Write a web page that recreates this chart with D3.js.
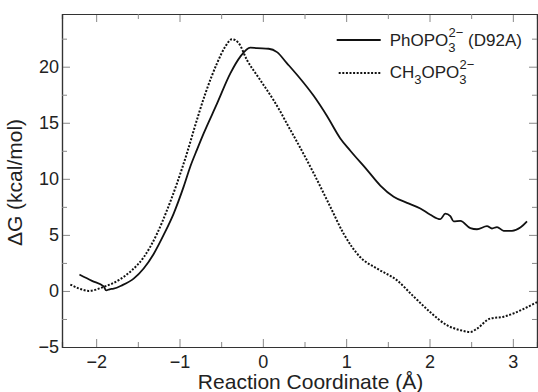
<!DOCTYPE html>
<html>
<head>
<meta charset="utf-8">
<script src="https://cdn.jsdelivr.net/npm/d3@7"></script>
<style>
  body { margin: 0; background: #fff; }
  text { font-family: "Liberation Sans", Arial, sans-serif; fill: #222; }
</style>
</head>
<body>
<div id="chart"></div>
<script>
// PhOPO3 2- (D92A), solid line
const phX = [-2.20, -2.05, -1.91, -1.88, -1.84, -1.79, -1.69, -1.55, -1.43, -1.31, -1.19, -1.07, -0.95, -0.87, -0.79, -0.71, -0.55, -0.39, -0.27, -0.15, -0.07, 0.07, 0.17, 0.29, 0.43, 0.61, 0.77, 0.93, 1.05, 1.25, 1.41, 1.57, 1.73, 1.89, 2.01, 2.13, 2.19, 2.25, 2.29, 2.37, 2.49, 2.57, 2.69, 2.75, 2.81, 2.89, 2.99, 3.09, 3.17];
const phY = [1.46, 0.9, 0.4, 0.05, 0.15, 0.2, 0.5, 1.1, 2.0, 3.3, 5.0, 6.9, 9.3, 11.1, 12.6, 14.05, 16.7, 19.4, 20.9, 21.7, 21.65, 21.6, 21.3, 20.3, 19.1, 17.4, 15.6, 13.6, 12.5, 10.8, 9.4, 8.4, 7.86, 7.36, 6.8, 6.4, 6.9, 6.67, 6.2, 6.25, 5.6, 5.5, 5.78, 5.57, 5.7, 5.36, 5.36, 5.65, 6.2];

// CH3OPO3 2-, dotted line
const meX = [-2.31, -2.2, -2.09, -1.91, -1.73, -1.57, -1.43, -1.27, -1.15, -1.03, -0.91, -0.83, -0.69, -0.55, -0.45, -0.37, -0.29, -0.19, -0.03, 0.13, 0.21, 0.29, 0.41, 0.61, 0.81, 0.97, 1.17, 1.37, 1.61, 1.81, 2.01, 2.21, 2.37, 2.49, 2.57, 2.73, 2.89, 3.01, 3.13, 3.29];
const meY = [0.57, 0.2, 0.0, 0.36, 0.96, 1.85, 3.0, 5.1, 7.2, 9.6, 12.3, 14.3, 17.6, 20.3, 21.8, 22.45, 22.1, 20.6, 18.8, 17.0, 16.0, 14.9, 13.3, 10.5, 7.5, 5.1, 3.0, 2.0, 0.95, -0.5, -1.9, -3.06, -3.5, -3.66, -3.36, -2.46, -2.3, -2.0, -1.6, -1.0];

const xTicks = [-2, -1, 0, 1, 2, 3];
const yTicks = [-5, 0, 5, 10, 15, 20];

const margin = { top: 14, right: 1, bottom: 45, left: 62 },
    width = 538 - margin.left - margin.right,
    height = 392 - margin.top - margin.bottom;

const svg = d3.select("#chart")
    .append("svg")
    .attr("width", 538)
    .attr("height", 392)
    .append("g")
    .attr("transform", `translate(${margin.left},${margin.top})`);

const x = d3.scaleLinear().domain([-2.41, 3.29]).range([0, width]);
const y = d3.scaleLinear().domain([-5, 24.7]).range([height, 0]);

const xMinor = d3.range(-2.5, 3.3, 0.5).filter(v => x(v) >= 0 && xTicks.indexOf(v) < 0);
const yMinor = d3.range(-2.5, 25, 5);

function styleAxis(g) {
    g.select(".domain").attr("stroke", "#333").attr("stroke-width", 1.2);
    g.selectAll(".tick line").attr("stroke", "#888");
    g.selectAll("text").style("font-size", "18px").attr("fill", "#222");
}

// major ticks, inward
svg.append("g")
    .attr("transform", `translate(0,${height})`)
    .call(d3.axisBottom(x).tickValues(xTicks).tickFormat(d3.format("d")).tickSizeInner(-8).tickSizeOuter(0).tickPadding(8))
    .call(styleAxis);
svg.append("g")
    .call(d3.axisTop(x).tickValues(xTicks).tickSizeInner(-8).tickSizeOuter(0).tickFormat(""))
    .call(styleAxis);
svg.append("g")
    .call(d3.axisLeft(y).tickValues(yTicks).tickFormat(d3.format("d")).tickSizeInner(-8).tickSizeOuter(0).tickPadding(3))
    .call(styleAxis);
svg.append("g")
    .attr("transform", `translate(${width},0)`)
    .call(d3.axisRight(y).tickValues(yTicks).tickSizeInner(-8).tickSizeOuter(0).tickFormat(""))
    .call(styleAxis);

// minor ticks
svg.append("g")
    .attr("transform", `translate(0,${height})`)
    .call(d3.axisBottom(x).tickValues(xMinor).tickSize(-5).tickFormat(""))
    .call(styleAxis);
svg.append("g")
    .call(d3.axisTop(x).tickValues(xMinor).tickSize(-5).tickFormat(""))
    .call(styleAxis);
svg.append("g")
    .call(d3.axisLeft(y).tickValues(yMinor).tickSize(-5).tickFormat(""))
    .call(styleAxis);
svg.append("g")
    .attr("transform", `translate(${width},0)`)
    .call(d3.axisRight(y).tickValues(yMinor).tickSize(-5).tickFormat(""))
    .call(styleAxis);

// curves
const line = d3.line().x(d => x(d[0])).y(d => y(d[1])).curve(d3.curveMonotoneX);

svg.append("path")
    .datum(phX.map((v, i) => [v, phY[i]]))
    .attr("fill", "none")
    .attr("stroke", "#111")
    .attr("stroke-width", 1.8)
    .attr("d", line);

svg.append("path")
    .datum(meX.map((v, i) => [v, meY[i]]))
    .attr("fill", "none")
    .attr("stroke", "#111")
    .attr("stroke-width", 2)
    .attr("stroke-dasharray", "2,1.6")
    .attr("d", line);

// axis titles
svg.append("text")
    .attr("x", width / 2 + 11)
    .attr("y", height + 42)
    .attr("text-anchor", "middle")
    .style("font-size", "21px")
    .text("Reaction Coordinate (Å)");

svg.append("text")
    .attr("transform", `translate(${-40},${height / 2 + 2}) rotate(-90)`)
    .attr("text-anchor", "middle")
    .style("font-size", "21px")
    .text("ΔG (kcal/mol)");

// legend
const lg = svg.append("g").attr("transform", `translate(${336.7 - margin.left},${40 - margin.top})`);
lg.append("line").attr("x1", 0).attr("x2", 44).attr("y1", 0).attr("y2", 0)
    .attr("stroke", "#111").attr("stroke-width", 1.8);
lg.append("line").attr("x1", 2).attr("x2", 44).attr("y1", 33).attr("y2", 33)
    .attr("stroke", "#111").attr("stroke-width", 2).attr("stroke-dasharray", "2,1.6");

const t1 = lg.append("text").attr("x", 53).attr("y", 6).style("font-size", "17px");
t1.append("tspan").text("PhOPO");
t1.append("tspan").attr("dy", 6).style("font-size", "13px").text("3");
t1.append("tspan").attr("dx", -7).attr("dy", -15).style("font-size", "13px").text("2−");
t1.append("tspan").attr("dy", 9).text(" (D92A)");

const t2 = lg.append("text").attr("x", 53).attr("y", 38).style("font-size", "17px");
t2.append("tspan").text("CH");
t2.append("tspan").attr("dy", 6).style("font-size", "13px").text("3");
t2.append("tspan").attr("dy", -6).text("OPO");
t2.append("tspan").attr("dy", 6).style("font-size", "13px").text("3");
t2.append("tspan").attr("dx", -7).attr("dy", -15).style("font-size", "13px").text("2−");
</script>
</body>
</html>
